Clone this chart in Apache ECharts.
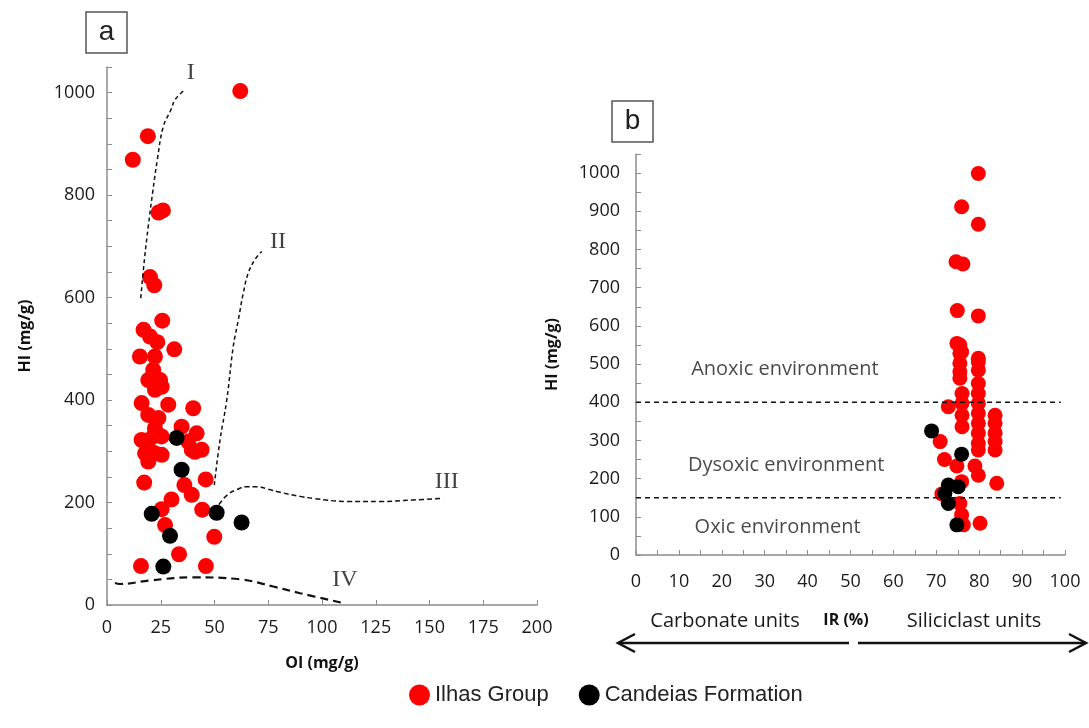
<!DOCTYPE html>
<html><head><meta charset="utf-8">
<script src="https://cdn.jsdelivr.net/npm/echarts@6/dist/echarts.min.js"></script>
<style>html,body{margin:0;padding:0;background:#fff}#c{width:1089px;height:728px}</style>
</head><body><div id="c"></div>
<script>
// Panel a: OI (mg/g), HI (mg/g)
const ilhasA = [[62,1003],[19,915],[12,869],[24,766],[26,770],[20,640],[22,624],[25.7,555],[17,537],[20,524],[23.4,513],[31.3,499],[15.3,485],[22.3,485],[21.5,459],[19.2,439],[24.7,439],[22.3,420],[25.4,426],[16.1,394],[28.5,391],[40.1,384],[19.2,371],[23.9,365],[34.7,348],[22.3,345],[16.1,322],[21.5,329],[25.4,329],[41.7,335],[37.8,319],[44,303],[39.4,303],[19.2,306],[17.7,296],[22.3,296],[25.4,293],[19.2,280],[40.9,299],[17.3,239],[45.9,245],[36,234],[39.4,215],[30,206],[25.4,187],[44.3,186],[27,156],[49.9,133],[33.5,99],[15.8,76],[46,76]];
const candeiasA = [[32.4,326],[34.7,264],[20.8,178],[51,180],[62.6,161],[29.3,135],[26.2,75]];
// Panel b: IR (%), HI (mg/g)
const ilhasB = [[79.8,999],[75.9,912],[79.8,866],[74.6,768],[76.2,762],[74.9,640],[79.8,626],[74.8,554],[75.9,532],[79.8,515],
 [75.5,550],[75.5,528],[75.5,502],[75.5,480],[75.5,463],
 [76,423],[76,397],[76,366],[76,336],[72.8,388],
 [79.8,506],[79.8,484],[79.8,449],[79.8,423],[79.8,397],[79.8,371],[79.8,345],[79.8,319],[79.8,292],[79.8,275],
 [83.7,366],[83.7,345],[83.7,319],[83.7,297],[83.7,275],
 [70.9,297],[71.9,250],[74.8,233],[79,233],[79.8,209],[84.1,188],[75.9,192],[71.3,160],[75.5,135],[75.9,105],[76.3,79],[80.2,83]];
const candeiasB = [[68.9,325],[75.9,264],[72.8,183],[75.1,179],[72,161],[72.8,135],[74.8,79]];
// Kerogen type curves (panel a)
const curveI = [[15.7,599],[17.4,674],[19.2,739],[21.2,804],[23.4,869],[26.2,934],[29.8,967],[31.6,986],[35.5,1003]];
const curveII = [[49.9,234],[52.5,320],[55.7,400],[58.7,504],[61.1,557],[63.4,609],[65.7,648],[68.8,674],[72,690]];
const curveIII = [[52,196],[56,215],[60.3,225],[65,231],[69.6,231],[75,226],[80.5,220],[89.8,212],[96,208],[111.5,202],[127,202],[142.5,205],[156.4,208]];
const curveIV = [[3.7,43],[6,41],[20,48],[40,54],[62,50],[77.4,36],[89.8,23],[110.7,3]];
const curveLabels = [['I',39,1039],['II',79.5,709],['III',158,240],['IV',110.7,49]];
// Panel b thresholds and zone labels
const thresholdsHI = [400,150];
const envLabels = [['Anoxic environment',34.7,487],['Dysoxic environment',35,236],['Oxic environment',33,73]];

const FONT = 'Open Sans';
const axisCommon = {
  axisLine:{show:true,lineStyle:{color:'#8c8c8c',width:1.5}},
  axisTick:{show:true,inside:true,length:5,lineStyle:{color:'#8c8c8c'}},
  splitLine:{show:false},
  axisLabel:{color:'#1a1a1a',fontFamily:FONT,fontSize:18},
  nameTextStyle:{color:'#111',fontFamily:FONT,fontWeight:'bold',fontSize:16}
};
function dashed(data, w, dash){
  return {type:'line',xAxisIndex:0,yAxisIndex:0,data:data,smooth:0.4,symbol:'none',silent:true,
    lineStyle:{color:'#111',width:w,type:dash}};
}
const chart = echarts.init(document.getElementById('c'));
chart.setOption({
  animation:false,
  grid:[{left:107,top:67,width:430,height:538},{left:636,top:154,width:429,height:401}],
  xAxis:[
    Object.assign({},axisCommon,{gridIndex:0,type:'value',min:0,max:200,interval:25,name:'OI (mg/g)',nameLocation:'middle',nameGap:50,
      axisLabel:Object.assign({},axisCommon.axisLabel,{margin:14})}),
    Object.assign({},axisCommon,{gridIndex:1,type:'value',min:0,max:100,interval:5,
      axisLabel:Object.assign({},axisCommon.axisLabel,{margin:18,formatter:v=>v%10===0?String(v):''})})
  ],
  yAxis:[
    Object.assign({},axisCommon,{gridIndex:0,type:'value',min:0,max:1050,interval:50,name:'HI (mg/g)',nameLocation:'middle',nameGap:74,
      axisLabel:Object.assign({},axisCommon.axisLabel,{margin:12,formatter:v=>v%200===0?String(v):''})}),
    Object.assign({},axisCommon,{gridIndex:1,type:'value',min:0,max:1050,interval:50,name:'HI (mg/g)',nameLocation:'middle',nameGap:76,
      axisLabel:Object.assign({},axisCommon.axisLabel,{margin:16,formatter:v=>v%100===0?String(v):''})})
  ],
  legend:{left:404,top:679,itemWidth:21,itemHeight:21,itemGap:30,icon:'circle',
    data:['Ilhas Group','Candeias Formation'],
    textStyle:{fontFamily:'Liberation Sans',fontSize:22,color:'#222'}},
  series:[
    dashed(curveI,1.5,[4,3]),
    dashed(curveII,1.5,[4,3]),
    dashed(curveIII,1.5,[5,3]),
    dashed(curveIV,2.2,[8,5]),
    {type:'scatter',xAxisIndex:0,yAxisIndex:0,symbolSize:0,silent:true,
      data:curveLabels.map(d=>({value:[d[1],d[2]],label:{formatter:d[0]}})),
      label:{show:true,position:'inside',fontFamily:'Liberation Serif',fontSize:24,color:'#111'}},
    {type:'scatter',name:'Ilhas Group',xAxisIndex:0,yAxisIndex:0,data:ilhasA,symbolSize:16,itemStyle:{color:'#ff0000',opacity:1}},
    {type:'scatter',name:'Candeias Formation',xAxisIndex:0,yAxisIndex:0,data:candeiasA,symbolSize:16,itemStyle:{color:'#000',opacity:1}},
    ...thresholdsHI.map(h=>({type:'line',xAxisIndex:1,yAxisIndex:1,data:[[0,h],[99,h]],symbol:'none',silent:true,
      lineStyle:{color:'#111',width:1.5,type:[5,4]}})),
    {type:'scatter',xAxisIndex:1,yAxisIndex:1,symbolSize:0,silent:true,
      data:envLabels.map(d=>({value:[d[1],d[2]],label:{formatter:d[0]}})),
      label:{show:true,position:'inside',fontFamily:FONT,fontSize:20,color:'#1a1a1a'}},
    {type:'scatter',name:'Ilhas Group',xAxisIndex:1,yAxisIndex:1,data:ilhasB,symbolSize:15,itemStyle:{color:'#ff0000',opacity:1}},
    {type:'scatter',name:'Candeias Formation',xAxisIndex:1,yAxisIndex:1,data:candeiasB,symbolSize:15,itemStyle:{color:'#000',opacity:1}}
  ],
  graphic:[
    {type:'rect',shape:{x:86,y:12,width:41,height:41},style:{fill:'#fff',stroke:'#555',lineWidth:1.5}},
    {type:'text',x:106.5,y:32,style:{text:'a',fontFamily:'Liberation Sans',fontSize:28,fill:'#222',align:'center',verticalAlign:'middle'}},
    {type:'rect',shape:{x:612,y:101,width:41,height:41},style:{fill:'#fff',stroke:'#555',lineWidth:1.5}},
    {type:'text',x:632.5,y:121,style:{text:'b',fontFamily:'Liberation Sans',fontSize:28,fill:'#222',align:'center',verticalAlign:'middle'}},
    {type:'text',x:725,y:621,style:{text:'Carbonate units',fontFamily:FONT,fontSize:20,fill:'#1a1a1a',align:'center',verticalAlign:'middle'}},
    {type:'text',x:846,y:620,style:{text:'IR (%)',fontFamily:FONT,fontWeight:'bold',fontSize:16,fill:'#111',align:'center',verticalAlign:'middle'}},
    {type:'text',x:974,y:621,style:{text:'Siliciclast units',fontFamily:FONT,fontSize:20,fill:'#1a1a1a',align:'center',verticalAlign:'middle'}},
    {type:'line',shape:{x1:618,y1:643,x2:849,y2:643},style:{stroke:'#111',lineWidth:2.5}},
    {type:'polyline',shape:{points:[[635,634],[618,643],[635,652]]},style:{stroke:'#111',lineWidth:2.5,fill:null}},
    {type:'line',shape:{x1:858,y1:643,x2:1086,y2:643},style:{stroke:'#111',lineWidth:2.5}},
    {type:'polyline',shape:{points:[[1069,634],[1086,643],[1069,652]]},style:{stroke:'#111',lineWidth:2.5,fill:null}}
  ]
});
</script></body></html>
